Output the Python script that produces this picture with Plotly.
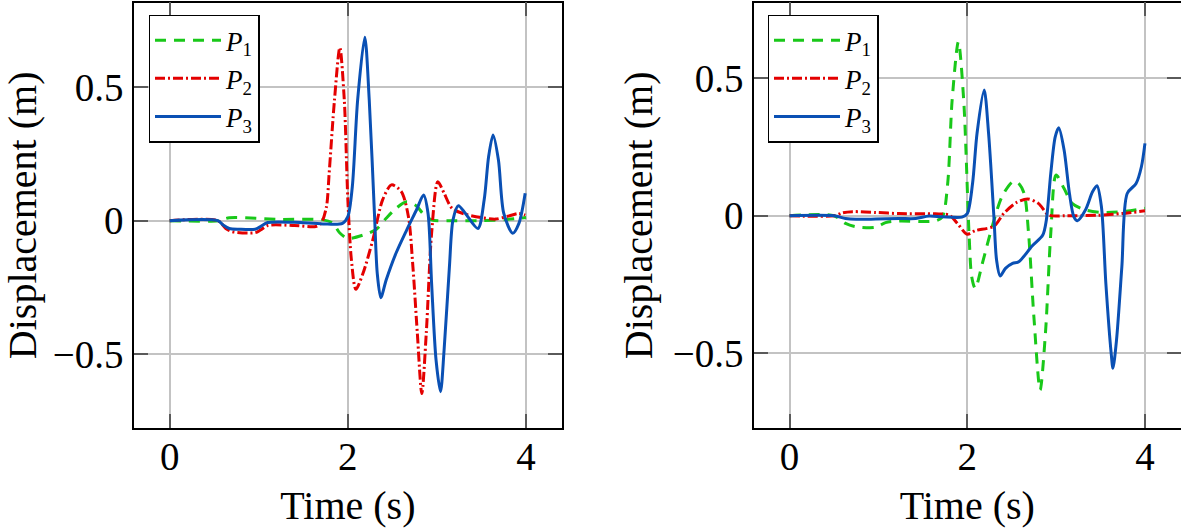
import plotly.graph_objects as go

# ---------------- data ----------------
# Left panel
L_t1 = [0, 0.54, 0.67, 1.23, 1.72, 1.83, 1.91, 2.0, 2.17, 2.32, 2.43, 2.54, 2.66, 2.77, 2.84, 2.94, 3.2, 3.5, 3.8, 4.0]
L_p1 = [0, 0, 0.011, 0.005, 0.003, -0.009, -0.046, -0.066, -0.054, -0.032, 0.009, 0.046, 0.071, 0.055, 0.028, 0.003, 0.0, 0.0, 0.005, 0.012]

L_t2 = [0, 0.54, 0.63, 0.70, 0.96, 1.02, 1.10, 1.40, 1.64, 1.70, 1.76, 1.79, 1.85, 1.91, 1.96, 2.0, 2.04, 2.09,
        2.17, 2.28, 2.39, 2.49, 2.60, 2.68, 2.73, 2.78, 2.83, 2.88, 2.94, 3.01, 3.08, 3.17, 3.32, 3.51, 3.66, 3.81, 3.92, 3.99]
L_p2 = [0, 0, -0.029, -0.041, -0.045, -0.035, -0.018, -0.018, -0.022, -0.010, 0.052, 0.177, 0.452, 0.648, 0.452, 0.078, -0.147, -0.257,
        -0.197, -0.072, 0.078, 0.134, 0.109, 0.015, -0.172, -0.422, -0.647, -0.422, -0.047, 0.146, 0.103, 0.046, 0.024, 0.011, 0.006, 0.018, 0.027, 0.021]

L_t3 = [0, 0.54, 0.60, 0.67, 0.78, 0.96, 1.02, 1.10, 1.40, 1.72, 1.94, 2.0, 2.05, 2.11, 2.19, 2.24, 2.30, 2.33, 2.37, 2.43,
        2.54, 2.66, 2.77, 2.85, 2.90, 2.94, 2.99, 3.04, 3.08, 3.14, 3.18, 3.24, 3.32, 3.46, 3.53, 3.58, 3.63, 3.69, 3.75, 3.85, 3.92, 3.99]
L_p3 = [0, 0, -0.016, -0.029, -0.032, -0.032, -0.022, -0.007, -0.006, -0.012, -0.010, 0.015, 0.127, 0.452, 0.687, 0.452, 0.015, -0.197, -0.288, -0.222,
        -0.122, -0.035, 0.040, 0.096, 0.027, -0.235, -0.522, -0.640, -0.485, -0.172, 0.003, 0.056, 0.027, -0.029, 0.078, 0.240, 0.321, 0.227, 0.027, -0.047, -0.010, 0.103]

# Right panel
R_t1 = [0, 0.5, 0.63, 0.75, 0.97, 1.08, 1.23, 1.64, 1.72, 1.78, 1.83, 1.90, 1.96, 2.02, 2.05, 2.09, 2.17, 2.28, 2.39, 2.51,
        2.57, 2.64, 2.69, 2.75, 2.82, 2.88, 2.94, 3.00, 3.09, 3.18, 3.33, 3.52, 3.74, 4.0]
R_p1 = [0, 0, -0.028, -0.040, -0.042, -0.025, -0.019, -0.019, -0.004, 0.118, 0.420, 0.632, 0.420, -0.064, -0.221, -0.264, -0.173, -0.040, 0.069, 0.123,
        0.120, 0.081, -0.064, -0.367, -0.633, -0.427, -0.064, 0.148, 0.099, 0.045, 0.021, 0.012, 0.015, 0.027]

R_t2 = [0, 0.5, 0.60, 0.71, 0.97, 1.23, 1.64, 1.80, 1.89, 2.00, 2.09, 2.30, 2.41, 2.55, 2.68, 2.80, 2.92, 3.11, 3.48, 3.74, 4.0]
R_p2 = [0, 0, 0.011, 0.015, 0.012, 0.008, 0.007, 0.002, -0.028, -0.067, -0.054, -0.038, 0.008, 0.047, 0.061, 0.045, 0.002, 0.0, 0.002, 0.008, 0.018]

R_t3 = [0, 0.5, 0.63, 0.75, 0.97, 1.23, 1.42, 1.57, 1.72, 1.94, 2.00, 2.06, 2.11, 2.19, 2.24, 2.30, 2.33, 2.37, 2.43, 2.51,
        2.58, 2.73, 2.85, 2.89, 2.94, 2.99, 3.03, 3.09, 3.15, 3.20, 3.24, 3.33, 3.41, 3.46, 3.51, 3.56, 3.62, 3.64, 3.68, 3.74,
        3.80, 3.90, 3.96, 4.0]
R_p3 = [0, 0, -0.010, -0.013, -0.012, -0.010, -0.010, -0.001, -0.004, -0.005, 0.008, 0.118, 0.299, 0.457, 0.299, -0.004, -0.161, -0.219, -0.191, -0.173,
        -0.167, -0.110, -0.070, -0.016, 0.154, 0.287, 0.320, 0.239, 0.081, -0.004, -0.018, 0.021, 0.087, 0.109, 0.033, -0.246, -0.500, -0.554, -0.451, -0.185,
        0.081, 0.117, 0.178, 0.263]

x_ticks = [0, 2, 4]
y_ticks = [-0.5, 0, 0.5]
y_tick_text = ["\u22120.5", "0", "0.5"]
names = ["<i>P</i><sub>1</sub>", "<i>P</i><sub>2</sub>", "<i>P</i><sub>3</sub>"]

# ---------------- styling ----------------
GREEN = "rgb(25,200,25)"
RED = "rgb(228,0,0)"
BLUE = "rgb(10,80,180)"
FONT = "Liberation Serif"
styles = [
    dict(color=GREEN, width=3, dash="11px,8px"),
    dict(color=RED, width=3, dash="10px,3px,2px,3px"),
    dict(color=BLUE, width=3, dash="solid"),
]

W, H = 1181, 528
fig = go.Figure()

panels = [
    ((L_t1, L_p1), (L_t2, L_p2), (L_t3, L_p3)),
    ((R_t1, R_p1), (R_t2, R_p2), (R_t3, R_p3)),
]
axes_ids = [("x", "y", "legend"), ("x2", "y2", "legend2")]
for (series, (xa, ya, lg)) in zip(panels, axes_ids):
    for (t, v), st, nm in zip(series, styles, names):
        fig.add_trace(go.Scatter(x=t, y=v, mode="lines", name=nm, line=dict(shape="spline", smoothing=0.8, **st),
                                 xaxis=xa, yaxis=ya, legend=lg))

axis_common = dict(
    showgrid=True, gridcolor="rgb(195,195,195)", gridwidth=1.5,
    zeroline=False, showline=True, linecolor="black", linewidth=1.5, mirror="ticks",
    ticks="inside", ticklen=14, tickwidth=1.5, tickcolor="rgb(90,90,90)",
    tickfont=dict(family=FONT, size=39, color="black"),
    title_font=dict(family=FONT, size=40, color="black"),
)

ydom = [(H - 428) / H, (H - 2.7) / H]
xcommon = dict(range=[-0.4, 4.4], tickvals=x_ticks, ticklabelstandoff=-7,
               title=dict(text="Time (s)", standoff=16))
fig.update_layout(
    width=W, height=H, margin=dict(l=0, r=0, t=0, b=0),
    paper_bgcolor="white", plot_bgcolor="white",
    xaxis=dict(domain=[134 / W, 561.7 / W], anchor="y", **xcommon, **axis_common),
    yaxis=dict(domain=ydom, range=[-0.776, 0.816], tickvals=y_ticks, ticktext=y_tick_text, anchor="x",
               ticklabelstandoff=1, title=dict(text="Displacement (m)", standoff=8), **axis_common),
    xaxis2=dict(domain=[754 / W, 1180.5 / W], anchor="y2", **xcommon, **axis_common),
    yaxis2=dict(domain=ydom, range=[-0.771, 0.774], tickvals=y_ticks, ticktext=y_tick_text, anchor="x2",
                ticklabelstandoff=1, title=dict(text="Displacement (m)", standoff=8), **axis_common),
    legend=dict(x=148.5 / W, y=1 - 14.7 / H, xanchor="left", yanchor="top", bgcolor="white",
                bordercolor="black", borderwidth=1.5, font=dict(family=FONT, size=27, color="black"),
                itemwidth=66, tracegroupgap=0),
    legend2=dict(x=767.5 / W, y=1 - 14.7 / H, xanchor="left", yanchor="top", bgcolor="white",
                 bordercolor="black", borderwidth=1.5, font=dict(family=FONT, size=27, color="black"),
                 itemwidth=66, tracegroupgap=0),
)

fig.write_html("out.html", config={"displayModeBar": False},
               post_script="document.body.style.margin='0px';")
